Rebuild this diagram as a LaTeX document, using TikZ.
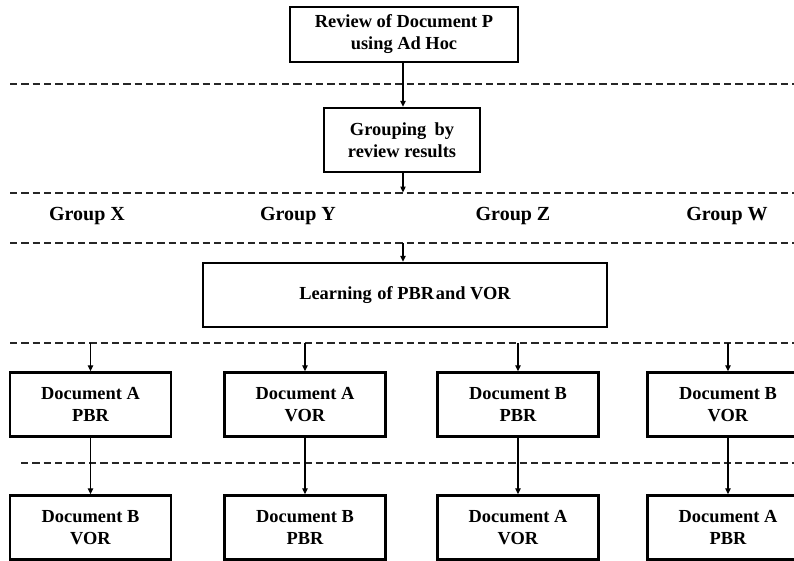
\documentclass[tikz,border=0pt]{standalone}
\usepackage{fontspec}
\setmainfont{Liberation Serif}
\usetikzlibrary{arrows.meta}
\begin{document}
\begin{tikzpicture}[x=0.75pt,y=-0.75pt,
  box/.style={draw=black,line width=1.8pt,fill=white,inner sep=0pt,align=center,
    font=\bfseries\fontsize{13.8}{16.5}\selectfont},
  rowbox/.style={box,minimum width=120.75pt,minimum height=48pt},
  grp/.style={inner sep=0pt,font=\bfseries\fontsize{15}{18}\selectfont},
  sep/.style={draw=black!85,line width=1.1pt,dash pattern=on 5.5pt off 3pt},
  arr/.style={draw=black,line width=0.9pt,-{Triangle[length=4.5pt,width=4pt]}}]
\useasboundingbox (0,0) rectangle (794,561);
\clip (0,0) rectangle (794,561);
% dashed separators
\coordinate (s1a) at (10,84);  \coordinate (s1b) at (794,84);
\coordinate (s2a) at (10,193); \coordinate (s2b) at (794,193);
\coordinate (s3a) at (10,243); \coordinate (s3b) at (794,243);
\coordinate (s4a) at (10,343); \coordinate (s4b) at (794,343);
\coordinate (s5a) at (21,463); \coordinate (s5b) at (794,463);
\draw[sep] (s1a) -- (s1b);
\draw[sep] (s2a) -- (s2b);
\draw[sep] (s3a) -- (s3b);
\draw[sep] (s4a) -- (s4b);
\draw[sep] (s5a) -- (s5b);
% top boxes
\node[box,minimum width=171pt,minimum height=41.25pt] (rev) at (404,34.5) {Review of Document P\\using Ad Hoc};
\node[box,minimum width=117pt,minimum height=48pt] (grp) at (402,140) {Grouping\hspace{0.45em}by\\review results};
\node[box,minimum width=303pt,minimum height=48pt] (learn) at (405,295) {Learning\hspace{0.3em}of PBR\hspace{0.1em}and VOR};
% group labels
\node[grp] (gx) at (87,216) {Group X};
\node[grp] (gy) at (298,216) {Group Y};
\node[grp] (gz) at (513,216) {Group Z};
\node[grp] (gw) at (727,216) {Group W};
% row 1
\node[rowbox] (a1) at (90.5,404.5) {Document A\\PBR};
\node[rowbox] (b1) at (305,404.5) {Document A\\VOR};
\node[rowbox] (c1) at (518,404.5) {Document B\\PBR};
\node[rowbox] (d1) at (728,404.5) {Document B\\VOR};
% row 2
\node[rowbox] (a2) at (90.5,527.5) {Document B\\VOR};
\node[rowbox] (b2) at (305,527.5) {Document B\\PBR};
\node[rowbox] (c2) at (518,527.5) {Document A\\VOR};
\node[rowbox] (d2) at (728,527.5) {Document A\\PBR};
% connector anchors on dashed lines
\coordinate (t2) at (403,192.5);
\coordinate (t3) at (403,243);
\coordinate (ta) at (90.5,343);
\coordinate (tb) at (305,343);
\coordinate (tc) at (518,343);
\coordinate (td) at (728,343);
% arrows
\draw[arr] (rev.south -| 403,0) -- (grp.north -| 403,0);
\draw[arr] (grp.south -| 403,0) -- (t2);
\draw[arr] (t3) -- (learn.north -| 403,0);
\draw[arr] (ta) -- (a1.north);
\draw[arr] (tb) -- (b1.north);
\draw[arr] (tc) -- (c1.north);
\draw[arr] (td) -- (d1.north);
\draw[arr] (a1) -- (a2);
\draw[arr] (b1) -- (b2);
\draw[arr] (c1) -- (c2);
\draw[arr] (d1) -- (d2);
\end{tikzpicture}
\end{document}
